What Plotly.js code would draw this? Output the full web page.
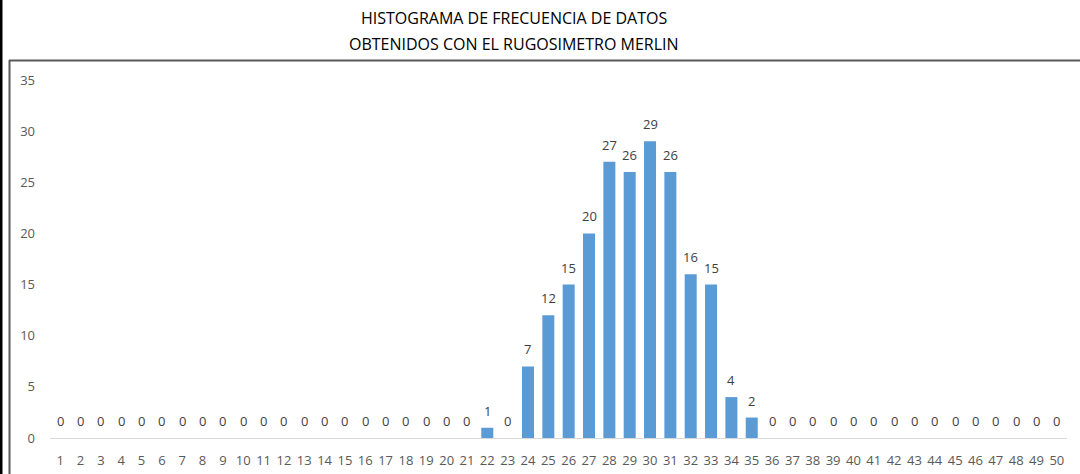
<!DOCTYPE html>
<html>
<head>
<meta charset="utf-8">
<script src="https://cdn.plot.ly/plotly-3.0.1.min.js"></script>
<style>html,body{margin:0;padding:0;background:#fff;}#chart{width:1080px;height:474px;}</style>
</head>
<body>
<div id="chart"></div>
<script>
const categories = [];
for (let i = 1; i <= 50; i++) categories.push(String(i));
const frequencies = [0,0,0,0,0,0,0,0,0,0,0,0,0,0,0,0,0,0,0,0,0,1,0,7,12,15,20,27,26,29,26,16,15,4,2,0,0,0,0,0,0,0,0,0,0,0,0,0,0,0];
const yTicks = [0,5,10,15,20,25,30,35];
const titleLines = ['HISTOGRAMA DE FRECUENCIA DE DATOS', 'OBTENIDOS CON EL RUGOSIMETRO MERLIN'];

const L = 50, R = 13, T = 80, B = 36, W = 1080, H = 474;
const pw = W - L - R, ph = H - T - B;
const px = x => (x - L) / pw;
const py = y => (H - B - y) / ph;
const FONT = 'Open Sans, sans-serif';

const trace = {
  type: 'bar',
  x: categories,
  y: frequencies,
  marker: {color: '#5b9bd5'},
  hoverinfo: 'x+y'
};

const labelAnnotations = categories.map((c, i) => ({
  x: i, y: frequencies[i], xref: 'x', yref: 'y',
  text: String(frequencies[i]), showarrow: false,
  xanchor: 'center', yanchor: 'bottom', yshift: 6,
  font: {family: FONT, size: 13, color: '#404040'}
}));

const titleAnnotations = titleLines.map((t, i) => ({
  x: px(514), y: py(18 + 26 * i), xref: 'paper', yref: 'paper',
  text: t, showarrow: false, xanchor: 'center', yanchor: 'middle',
  font: {family: FONT, size: 16, color: '#000'}
}));

const layout = {
  width: W, height: H,
  margin: {l: L, r: R, t: T, b: B},
  paper_bgcolor: '#fff', plot_bgcolor: '#fff',
  bargap: 0.41,
  showlegend: false,
  xaxis: {
    type: 'category',
    range: [-0.5, categories.length - 0.5],
    showgrid: false, zeroline: false,
    showline: true, linecolor: '#d9d9d9', linewidth: 1,
    ticks: '',
    tickfont: {family: FONT, size: 13, color: '#595959'},
    ticklabelstandoff: 10,
    fixedrange: true
  },
  yaxis: {
    range: [0, 35],
    tickvals: yTicks,
    showgrid: false, zeroline: false, showline: false,
    ticks: '',
    tickfont: {family: FONT, size: 13, color: '#595959'},
    ticklabelstandoff: 14,
    fixedrange: true
  },
  annotations: labelAnnotations.concat(titleAnnotations),
  shapes: [
    {type: 'line', xref: 'paper', yref: 'paper', x0: px(9), x1: px(1082), y0: py(60.5), y1: py(60.5), line: {color: '#595959', width: 2}},
    {type: 'line', xref: 'paper', yref: 'paper', x0: px(9.5), x1: px(9.5), y0: py(60), y1: py(476), line: {color: '#595959', width: 2}},
    {type: 'line', xref: 'paper', yref: 'paper', x0: px(1), x1: px(1), y0: py(-2), y1: py(476), line: {color: '#000', width: 3}}
  ]
};

Plotly.newPlot('chart', [trace], layout, {displayModeBar: false, staticPlot: true});
</script>
</body>
</html>
